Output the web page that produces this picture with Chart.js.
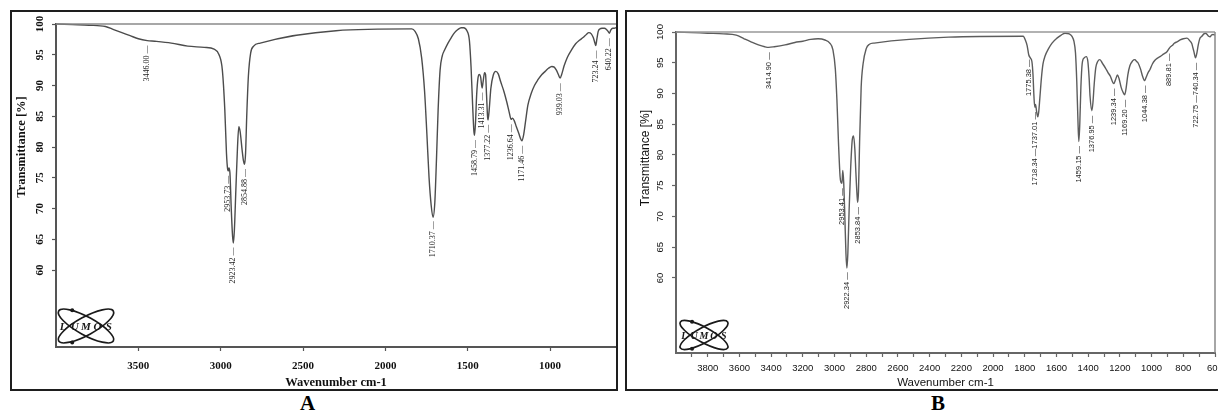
<!DOCTYPE html>
<html>
<head>
<meta charset="utf-8">
<title>FTIR spectra A and B</title>
<script src="https://cdn.jsdelivr.net/npm/chart.js@4.4.1/dist/chart.umd.min.js"></script>
<style>
  html, body { margin: 0; padding: 0; background: #fff; }
  body { position: relative; width: 1218px; height: 416px; overflow: hidden; }
  .panel { position: absolute; top: 10px; height: 381px; border: 2px solid #1e1e1e; box-sizing: border-box; background: #fff; }
  #panelA { left: 10px; width: 608px; }
  #panelB { left: 625px; width: 600px; }
  .panel canvas { display: block; }
  .tag { position: absolute; top: 393px; font: bold 21px "Liberation Serif", "Times New Roman", serif; line-height: 1; color: #000; }
  #tagA { left: 300px; }
  #tagB { left: 931px; }
</style>
</head>
<body>
<div class="panel" id="panelA"><canvas id="chartA" width="604" height="377"></canvas></div>
<div class="panel" id="panelB"><canvas id="chartB" width="596" height="377"></canvas></div>
<div class="tag" id="tagA">A</div>
<div class="tag" id="tagB">B</div>
<script>
// Sample A: wavenumber (cm-1) / transmittance (%)
const waveA = [
  4000, 3900, 3800, 3700, 3650, 3600, 3550, 3500, 3446, 3400,
  3300, 3200, 3100, 3040, 3010, 2990, 2975, 2965, 2958, 2954,
  2950, 2944, 2936, 2928, 2923, 2917, 2908, 2898, 2890, 2882,
  2870, 2862, 2855, 2849, 2842, 2832, 2818, 2800, 2760, 1840,
  1820, 1800, 1780, 1762, 1748, 1735, 1722, 1711, 1700, 1690,
  1680, 1668, 1655, 1640, 1620, 1600, 1580, 1560, 1540, 1525,
  1505, 1490, 1480, 1470, 1463, 1459, 1453, 1446, 1438, 1430,
  1422, 1413, 1406, 1398, 1392, 1386, 1380, 1377, 1370, 1360,
  1345, 1330, 1315, 1300, 1280, 1262, 1248, 1237, 1228, 1218,
  1205, 1190, 1180, 1171, 1162, 1150, 1135, 1115, 1095, 1075,
  1050, 1030, 1010, 990, 975, 962, 950, 939, 930, 915,
  895, 870, 845, 820, 800, 780, 765, 750, 738, 728,
  723, 716, 708, 698, 685, 670, 658, 648, 640, 632,
  620, 610, 600
];
const transA = [
  100.0, 99.9, 99.8, 99.6, 99.1, 98.6, 98.1, 97.6, 97.3, 97.2,
  96.9, 96.4, 96.2, 95.9, 95.0, 92.5, 86.0, 79.0, 76.4, 76.1,
  76.6, 75.8, 70.0, 65.5, 64.4, 66.5, 73.0, 80.0, 83.3, 82.5,
  79.5, 77.8, 77.2, 79.0, 85.0, 91.5, 95.3, 96.4, 96.9, 99.2,
  98.8, 97.6, 94.5, 89.0, 82.0, 75.0, 70.5, 68.6, 71.0, 78.0,
  86.0, 92.5, 94.8, 95.8, 96.9, 97.8, 98.6, 99.1, 99.4, 99.4,
  98.9, 97.3, 93.0, 86.5, 82.6, 81.9, 84.0, 88.5, 91.2, 91.8,
  91.4, 89.6, 90.8, 92.1, 91.8, 88.5, 85.0, 84.4, 86.0, 89.5,
  91.7, 92.3, 91.9, 90.6, 89.0, 87.2, 85.6, 84.5, 84.7, 84.3,
  83.3, 82.2, 81.4, 81.0, 81.8, 84.0, 86.8, 88.7, 90.0, 90.9,
  91.8, 92.3, 92.8, 93.1, 93.0, 92.5, 91.8, 91.2, 91.8, 93.2,
  94.6, 95.8, 96.8, 97.4, 97.8, 98.3, 98.6, 98.4, 97.8, 96.9,
  96.5, 97.6, 98.8, 99.2, 99.3, 99.3, 99.1, 98.8, 98.5, 99.0,
  99.3, 99.3, 99.4
];

// Sample B
const waveB = [
  4000, 3900, 3800, 3700, 3620, 3570, 3527, 3480, 3440, 3415,
  3380, 3312, 3250, 3200, 3150, 3104, 3060, 3030, 3010, 2995,
  2985, 2975, 2965, 2960, 2953, 2948, 2942, 2935, 2928, 2922,
  2916, 2908, 2898, 2888, 2880, 2872, 2865, 2858, 2854, 2849,
  2842, 2832, 2820, 2800, 2780, 2750, 1810, 1795, 1785, 1775,
  1765, 1755, 1748, 1742, 1737, 1732, 1725, 1718, 1712, 1705,
  1695, 1685, 1672, 1650, 1628, 1597, 1570, 1546, 1520, 1502,
  1490, 1480, 1472, 1465, 1459, 1453, 1446, 1438, 1425, 1412,
  1402, 1394, 1388, 1377, 1370, 1362, 1352, 1340, 1326, 1310,
  1290, 1275, 1260, 1248, 1239, 1228, 1215, 1205, 1192, 1180,
  1169, 1160, 1150, 1137, 1120, 1105, 1095, 1086, 1070, 1058,
  1044, 1035, 1022, 1010, 995, 979, 960, 947, 925, 903,
  890, 884, 870, 855, 840, 820, 800, 777, 760, 746,
  740, 733, 723, 715, 705, 695, 683, 670, 660, 650,
  640, 631, 622, 612, 600
];
const transB = [
  100.0, 99.9, 99.8, 99.7, 99.5, 98.9, 98.4, 97.9, 97.6, 97.5,
  97.6, 97.9, 98.3, 98.5, 98.8, 98.9, 98.7, 98.2, 97.1, 94.0,
  89.0, 82.0, 76.5, 75.6, 75.4, 77.5, 75.5, 70.0, 64.0, 61.6,
  64.0, 71.0, 78.0, 82.5, 83.1, 81.0, 77.0, 73.5, 72.3, 74.0,
  82.0, 91.0, 94.8, 97.3, 98.0, 98.2, 99.3, 98.6, 97.8, 96.3,
  95.8, 95.2, 93.0, 89.5, 87.8, 88.2, 87.0, 86.2, 87.0, 89.2,
  92.5, 94.8, 96.1, 97.3, 98.2, 99.0, 99.5, 99.8, 99.7, 99.3,
  98.5, 96.6, 92.0, 86.0, 82.2, 85.0, 91.0, 94.8, 95.8, 96.0,
  95.2, 92.5, 89.5, 87.2, 88.5, 91.5, 94.2, 95.2, 95.5, 94.9,
  94.1, 93.4, 92.8, 92.0, 91.6, 92.2, 93.0, 92.4, 91.0, 90.2,
  89.8, 91.0, 93.0, 94.5, 95.3, 95.5, 95.2, 95.0, 94.0, 92.9,
  92.1, 92.6, 93.4, 93.9, 94.8, 95.4, 95.8, 96.0, 96.4, 96.8,
  97.3, 97.5, 97.8, 98.2, 98.4, 98.7, 98.9, 99.0, 98.6, 98.1,
  97.5, 96.8, 95.8, 96.5, 98.0, 99.0, 99.3, 99.7, 99.8, 99.6,
  99.3, 99.2, 99.5, 99.6, 99.5
];

// picked peaks as printed under the bands
const peaksA = [3446.00, 2953.73, 2923.42, 2854.88, 1710.37, 1458.79, 1413.31, 1377.22, 1236.64, 1171.46, 939.03, 723.24, 640.22];
const peakTextA = ['3446.00 —', '2953.73 —', '2923.42 —', '2854.88 —', '1710.37 —', '1458.79 —', '1413.31 —',
  '1377.22 —', '1236.64 —', '1171.46 —', '939.03 —', '723.24 —', '640.22 —'];
const peaksB = [3414.90, 2953.41, 2922.34, 2853.84, 1775.38, 1737.01, 1459.15, 1376.95, 1239.34, 1169.20, 1044.38, 889.81, 722.75];
const peakTextB = ['3414.90 —', '2953.41 —', '2922.34 —', '2853.84 —', '1775.38 —', '1718.34 —1737.01 —', '1459.15 —',
  '1376.95 —', '1239.34 —', '1169.20 —', '1044.38 —', '889.81 —', '722.75 —740.34 —'];

// axis ticks
const yTicks = [60, 65, 70, 75, 80, 85, 90, 95, 100];
const xTicksA = [3500, 3000, 2500, 2000, 1500, 1000];
const xTicksB = [3900, 3800, 3700, 3600, 3500, 3400, 3300, 3200, 3100, 3000, 2900, 2800, 2700, 2600, 2500, 2400, 2300,
  2200, 2100, 2000, 1900, 1800, 1700, 1600, 1500, 1400, 1300, 1200, 1100, 1000, 900, 800, 700, 600];
const fullScale = 100; // the 100 % reference line on top

const SERIF = '"Liberation Serif", "Times New Roman", serif';
const SANS = '"Liberation Sans", Arial, sans-serif';

// linear lookup on the curve, only used to hang the peak labels under it
function curveAt(wave, trans, wn) {
  for (let i = 0; i < wave.length - 1; i++) {
    if (wn <= wave[i] && wn >= wave[i + 1]) {
      const f = (wave[i] - wn) / (wave[i] - wave[i + 1]);
      return trans[i] + f * (trans[i + 1] - trans[i]);
    }
  }
  return trans[trans.length - 1];
}

// the little LUMOS instrument logo in the corner
function drawLogo(ctx, cx, cy, w, h, font) {
  ctx.save();
  ctx.strokeStyle = '#1a1a1a';
  ctx.fillStyle = '#1a1a1a';
  ctx.lineWidth = 1.7;
  [0.5, -0.5].forEach(rot => {
    ctx.beginPath();
    ctx.ellipse(cx, cy, w * 0.52, h * 0.25, rot, 0, Math.PI * 2);
    ctx.stroke();
  });
  [[-0.23, -0.44], [-0.23, 0.46]].forEach(([dx, dy]) => {
    ctx.beginPath();
    ctx.arc(cx + dx * w, cy + dy * h, 2, 0, Math.PI * 2);
    ctx.fill();
  });
  ctx.font = font;
  ctx.textAlign = 'center';
  ctx.textBaseline = 'middle';
  'LUMOS'.split('').forEach((ch, i) => {
    ctx.fillText(ch, cx + (i - 2) * w * 0.19, cy + 1);
  });
  ctx.restore();
}

const spectrumDecor = {
  id: 'spectrumDecor',
  afterDatasetsDraw(chart, args, o) {
    const { ctx, chartArea: area, scales: { x, y } } = chart;
    ctx.save();

    if (o.rightFrame) {
      ctx.strokeStyle = o.rightFrame;
      ctx.lineWidth = 1.5;
      ctx.beginPath();
      ctx.moveTo(area.right, area.top);
      ctx.lineTo(area.right, area.bottom);
      ctx.stroke();
    }

    // peak labels, rotated, hanging just below each band
    ctx.font = o.peakFont;
    ctx.fillStyle = '#222';
    ctx.textAlign = 'right';
    ctx.textBaseline = 'middle';
    o.peaks.forEach((wn, i) => {
      const px = x.getPixelForValue(wn);
      const py = y.getPixelForValue(curveAt(o.wave, o.trans, wn)) + 5;
      ctx.save();
      ctx.translate(px, py);
      ctx.rotate(-Math.PI / 2);
      ctx.fillText(o.peakText[i], 0, 0);
      ctx.restore();
    });

    // y title sits above the middle of the axis in the original
    ctx.save();
    ctx.translate(area.left + o.titleAt[0], area.top + o.titleAt[1]);
    ctx.rotate(-Math.PI / 2);
    ctx.textAlign = 'center';
    ctx.textBaseline = 'middle';
    ctx.font = o.titleFont;
    ctx.fillStyle = '#111';
    ctx.fillText('Transmittance [%]', 0, 0);
    ctx.restore();

    drawLogo(ctx, area.left + o.logo[0], area.bottom - o.logo[1], o.logo[2], o.logo[3], o.logoFont);
    ctx.restore();
  }
};

function makeSpectrum(id, s) {
  return new Chart(document.getElementById(id), {
    type: 'line',
    data: {
      datasets: [
        {
          data: [{ x: 4000, y: fullScale }, { x: 600, y: fullScale }],
          borderColor: s.refColor, borderWidth: 1.6, pointRadius: 0, clip: false
        },
        {
          data: s.wave.map((w, i) => ({ x: w, y: s.trans[i] })),
          borderColor: s.lineColor, borderWidth: 1.4, pointRadius: 0,
          cubicInterpolationMode: 'monotone', clip: false
        }
      ]
    },
    options: {
      responsive: false,
      animation: false,
      layout: { padding: { top: s.padTop, right: s.padRight, left: 0, bottom: 0 } },
      plugins: {
        legend: { display: false },
        tooltip: { enabled: false },
        spectrumDecor: {
          wave: s.wave, trans: s.trans, peaks: s.peaks, peakText: s.peakText,
          peakFont: s.peakFont, titleFont: s.yTitleFont, titleAt: s.titleAt,
          logo: s.logo, logoFont: s.logoFont, rightFrame: s.rightFrame
        }
      },
      scales: {
        x: {
          type: 'linear', reverse: true, min: 600, max: 4000,
          afterBuildTicks: sc => { sc.ticks = s.xTicks.map(v => ({ value: v })); },
          afterFit: sc => { sc.height = s.xAxisHeight; sc.paddingLeft = 0; sc.paddingRight = 0; },
          ticks: {
            autoSkip: false, minRotation: 0, maxRotation: 0, padding: s.xTickPad,
            color: '#111', font: s.tickFont, callback: s.xLabel
          },
          grid: { display: true, drawOnChartArea: false, drawTicks: true, tickLength: 4, tickColor: s.axisColor, tickWidth: 1.2 },
          border: { display: true, color: s.axisColor, width: 2 },
          title: { display: true, text: 'Wavenumber cm-1', font: s.xTitleFont, color: '#111', padding: 0 }
        },
        y: {
          type: 'linear', min: s.yMin, max: 100,
          afterBuildTicks: sc => { sc.ticks = yTicks.map(v => ({ value: v })); },
          afterFit: sc => { sc.width = s.yAxisWidth; sc.paddingTop = 0; sc.paddingBottom = 0; },
          ticks: {
            autoSkip: false, minRotation: 90, maxRotation: 90, crossAlign: 'center', padding: 4,
            color: '#111', font: s.tickFont, callback: v => String(v)
          },
          grid: { display: true, drawOnChartArea: false, drawTicks: true, tickLength: 4, tickColor: s.axisColor, tickWidth: 1.2 },
          border: { display: true, color: s.axisColor, width: 2 }
        }
      }
    },
    plugins: [spectrumDecor]
  });
}

makeSpectrum('chartA', {
  wave: waveA, trans: transA, peaks: peaksA, peakText: peakTextA,
  xTicks: xTicksA, xLabel: v => String(v), yMin: 47.5,
  padTop: 12, padRight: 0, yAxisWidth: 44, xAxisHeight: 42, xTickPad: 9,
  lineColor: '#4c4c4c', refColor: '#8a8a8a', axisColor: '#555',
  tickFont: { family: SERIF, size: 11, weight: 'bold' },
  xTitleFont: { family: SERIF, size: 12.5, weight: 'bold', lineHeight: 1 },
  yTitleFont: 'bold 12.5px ' + SERIF,
  peakFont: '8px ' + SERIF,
  titleAt: [-34, 123],
  logo: [30, 21, 60, 36], logoFont: 'italic bold 11px ' + SERIF,
  rightFrame: null
});

makeSpectrum('chartB', {
  wave: waveB, trans: transB, peaks: peaksB, peakText: peakTextB,
  xTicks: xTicksB, xLabel: v => (v % 200 === 0 ? String(v) : ''), yMin: 47.8,
  padTop: 20, padRight: 8, yAxisWidth: 49, xAxisHeight: 36, xTickPad: 6,
  lineColor: '#5c5c5c', refColor: '#999', axisColor: '#666',
  tickFont: { family: SANS, size: 9.5 },
  xTitleFont: { family: SANS, size: 11.5, lineHeight: 1 },
  yTitleFont: '12px ' + SANS,
  peakFont: '7.5px ' + SANS,
  titleAt: [-30, 126],
  logo: [28, 18, 52, 30], logoFont: 'italic bold 10px ' + SERIF,
  rightFrame: '#888'
});
</script>
</body>
</html>
